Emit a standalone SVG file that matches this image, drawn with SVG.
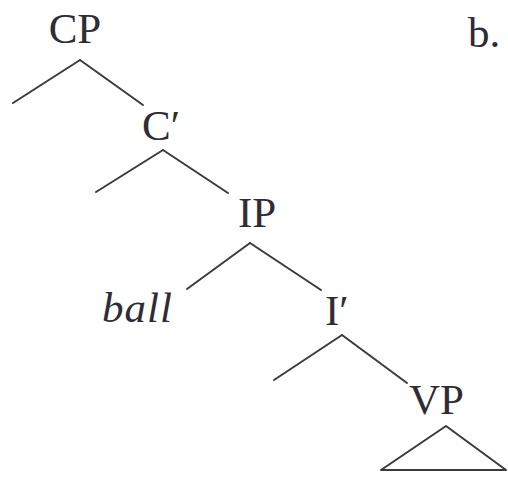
<svg xmlns="http://www.w3.org/2000/svg" width="508" height="477" viewBox="0 0 508 477">
  <style>
    .lbl { font-family: "Liberation Serif", "Times New Roman", serif; font-size: 43px; fill: #2e2c36; }
    .it { font-style: italic; }
    .edge { stroke: #3a3a40; stroke-width: 2; fill: none; stroke-linecap: round; stroke-linejoin: round; }
  </style>
  <rect width="508" height="477" fill="#ffffff"/>
  <g id="connectors">
    <line class="edge" x1="80" y1="60" x2="13" y2="103"/>
    <line class="edge" x1="80" y1="60" x2="143" y2="105"/>
    <line class="edge" x1="163" y1="150" x2="96" y2="192"/>
    <line class="edge" x1="163" y1="150" x2="228" y2="193"/>
    <line class="edge" x1="250" y1="243" x2="187" y2="289"/>
    <line class="edge" x1="250" y1="243" x2="321" y2="290"/>
    <line class="edge" x1="342" y1="335" x2="274" y2="380"/>
    <line class="edge" x1="342" y1="335" x2="407" y2="383"/>
    <polygon class="edge" points="446,426 381,470 506,470"/>
  </g>
  <g id="node-CP"><text class="lbl" x="75" y="43" text-anchor="middle">CP</text></g>
  <g id="node-Cbar"><text class="lbl" x="142" y="140">C′</text></g>
  <g id="node-IP"><text class="lbl" x="238" y="227">IP</text></g>
  <g id="node-ball"><text class="lbl it" x="102" y="322" font-size="47" letter-spacing="1">ball</text></g>
  <g id="node-Ibar"><text class="lbl" x="325" y="325">I′</text></g>
  <g id="node-VP"><text class="lbl" x="409" y="414">VP</text></g>
  <g id="label-b"><text class="lbl" x="468" y="47" font-size="46">b.</text></g>
</svg>
